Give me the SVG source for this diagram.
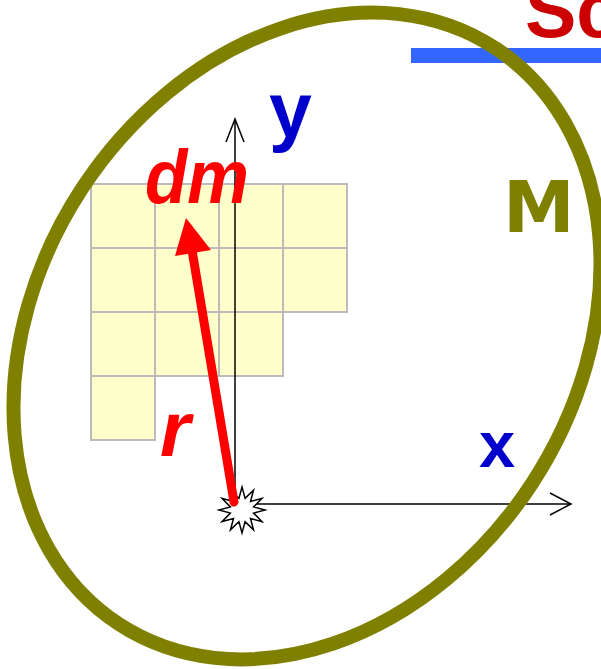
<svg xmlns="http://www.w3.org/2000/svg" width="601" height="669" viewBox="0 0 601 669">
<style>
.cell{fill:#ffffcc;stroke:#bbbbbb;stroke-width:2}
.axis{stroke:#000;stroke-width:1.5;fill:none}
.lbl{font-family:"Liberation Sans",Arial,sans-serif;font-weight:bold}
</style>
<rect width="601" height="669" fill="#fff"/>
<g id="title">
<text x="525" y="37" class="lbl" font-size="77" fill="#cc0000">Sc</text>
<rect x="411" y="48" width="190" height="15" fill="#3366ff"/>
</g>
<g id="grid">
<rect class="cell" x="91" y="184" width="64" height="64"/>
<rect class="cell" x="155" y="184" width="64" height="64"/>
<rect class="cell" x="219" y="184" width="64" height="64"/>
<rect class="cell" x="283" y="184" width="64" height="64"/>
<rect class="cell" x="91" y="248" width="64" height="64"/>
<rect class="cell" x="155" y="248" width="64" height="64"/>
<rect class="cell" x="219" y="248" width="64" height="64"/>
<rect class="cell" x="283" y="248" width="64" height="64"/>
<rect class="cell" x="91" y="312" width="64" height="64"/>
<rect class="cell" x="155" y="312" width="64" height="64"/>
<rect class="cell" x="219" y="312" width="64" height="64"/>
<rect class="cell" x="91" y="376" width="64" height="64"/>
</g>
<g id="axes">
<line class="axis" x1="235" y1="504" x2="235" y2="119"/>
<polyline class="axis" points="226,142 235,119 244,142"/>
<line class="axis" x1="235" y1="504" x2="571" y2="504"/>
<polyline class="axis" points="550,493 571,504 550,515"/>
</g>
<g id="body">
<ellipse cx="307" cy="336" rx="344" ry="269" transform="rotate(-56.8 307 336)" fill="none" stroke="#808000" stroke-width="14"/>
</g>
<g id="origin">
<polygon points="242,487 245.1,498.4 253.5,490.1 250.5,501.5 261.9,498.5 253.6,506.9 265,510 253.6,513.1 261.9,521.5 250.5,518.5 253.5,529.9 245.1,521.6 242,533 238.9,521.6 230.5,529.9 233.5,518.5 222.1,521.5 230.4,513.1 219,510 230.4,506.9 222.1,498.5 233.5,501.5 230.5,490.1 238.9,498.4" fill="#fff" stroke="#000" stroke-width="1.5"/>
</g>
<g id="vector">
<line x1="234" y1="502" x2="192" y2="250" stroke="#ff0000" stroke-width="9" stroke-linecap="round"/>
<polygon points="186,218 175,256 211,250" fill="#ff0000"/>
</g>
<g id="labels">
<text x="269" y="137" class="lbl" font-size="77" fill="#0000cc">y</text>
<text x="479" y="467" class="lbl" font-size="65" fill="#0000cc">x</text>
<text x="145" y="203" class="lbl" font-size="76" font-style="italic" fill="#ff0000" textLength="104" lengthAdjust="spacingAndGlyphs">dm</text>
<text x="160" y="456" class="lbl" font-size="78" font-style="italic" fill="#ff0000">r</text>
<text x="503" y="232" font-family="'DejaVu Sans',sans-serif" font-weight="bold" font-size="72" fill="#808000">M</text>
</g>
</svg>
